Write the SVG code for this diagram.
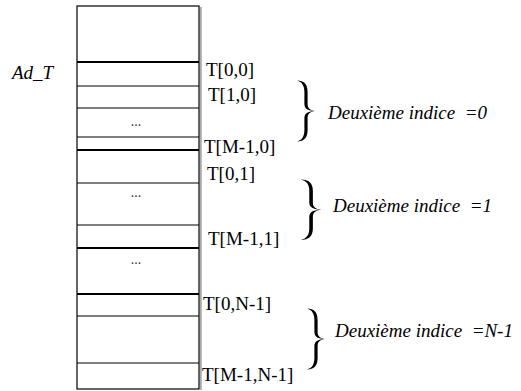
<svg xmlns="http://www.w3.org/2000/svg" width="521" height="391" viewBox="0 0 521 391">
  <style>
    .cell { fill: none; stroke: #000; stroke-width: 1.2; }
    .sep { stroke: #000; stroke-width: 1.2; }
    .sep-thick { stroke: #000; stroke-width: 2.2; }
    .lbl { font-family: "Liberation Serif", "Times New Roman", serif; font-size: 19px; fill: #000; }
    .it { font-family: "Liberation Serif", "Times New Roman", serif; font-size: 19px; font-style: italic; fill: #000; white-space: pre; }
    .dots { font-family: "Liberation Serif", "Times New Roman", serif; font-size: 14px; fill: #333; text-anchor: middle; }
    .brace { fill: #000; }
  </style>
  <defs>
    <!-- right curly brace, 18 wide and 62 tall, tip pointing right -->
    <path id="brace" d="M0,0.5 C6.8,0.5 10.6,4 10.6,12 L10.6,24 C10.6,28 12.8,30.4 18,31 C11.8,31 7.4,29 7.4,24 L7.4,12 C7.4,5.5 5,2 0,0.5 Z M0,61.5 C6.8,61.5 10.6,58 10.6,50 L10.6,38 C10.6,34 12.8,31.6 18,31 C11.8,31 7.4,33 7.4,38 L7.4,50 C7.4,56.5 5,60 0,61.5 Z"/>
  </defs>

  <rect width="521" height="391" fill="#fff"/>

  <!-- memory column -->
  <g id="memory">
    <line x1="200.8" y1="7" x2="200.8" y2="390" stroke="#aaa" stroke-width="2"/>
    <rect class="cell" x="77" y="6" width="122" height="383"/>
    <line class="sep-thick" x1="77" y1="62" x2="199" y2="62"/>
    <line class="sep" x1="77" y1="86" x2="199" y2="86"/>
    <line class="sep" x1="77" y1="108" x2="199" y2="108"/>
    <line class="sep" x1="77" y1="137" x2="199" y2="137"/>
    <line class="sep-thick" x1="77" y1="150" x2="199" y2="150"/>
    <line class="sep" x1="77" y1="183" x2="199" y2="183"/>
    <line class="sep" x1="77" y1="225" x2="199" y2="225"/>
    <line class="sep-thick" x1="77" y1="248" x2="199" y2="248"/>
    <line class="sep-thick" x1="77" y1="294" x2="199" y2="294"/>
    <line class="sep" x1="77" y1="316" x2="199" y2="316"/>
    <line class="sep" x1="77" y1="363" x2="199" y2="363"/>
    <text class="dots" x="136" y="126">...</text>
    <text class="dots" x="136" y="197">...</text>
    <text class="dots" x="136" y="264">...</text>
  </g>

  <!-- base address -->
  <g id="address">
    <text class="it" x="12" y="79">Ad_T</text>
  </g>

  <!-- element labels -->
  <g id="elements">
    <text class="lbl" x="206" y="76">T[0,0]</text>
    <text class="lbl" x="208" y="101">T[1,0]</text>
    <text class="lbl" x="204" y="153">T[M-1,0]</text>
    <text class="lbl" x="207" y="180">T[0,1]</text>
    <text class="lbl" x="208" y="245">T[M-1,1]</text>
    <text class="lbl" x="203" y="310">T[0,N-1]</text>
    <text class="lbl" x="202" y="381">T[M-1,N-1]</text>
  </g>

  <!-- column groups -->
  <g id="group-0">
    <use href="#brace" class="brace" transform="translate(297,80)"/>
    <text class="it" x="328" y="119">Deuxième indice  =0</text>
  </g>
  <g id="group-1">
    <use href="#brace" class="brace" transform="translate(301,179) scale(1.12,0.99)"/>
    <text class="it" x="333" y="212">Deuxième indice  =1</text>
  </g>
  <g id="group-n">
    <use href="#brace" class="brace" transform="translate(307,308)"/>
    <text class="it" x="335" y="337">Deuxième indice  =N-1</text>
  </g>
</svg>
